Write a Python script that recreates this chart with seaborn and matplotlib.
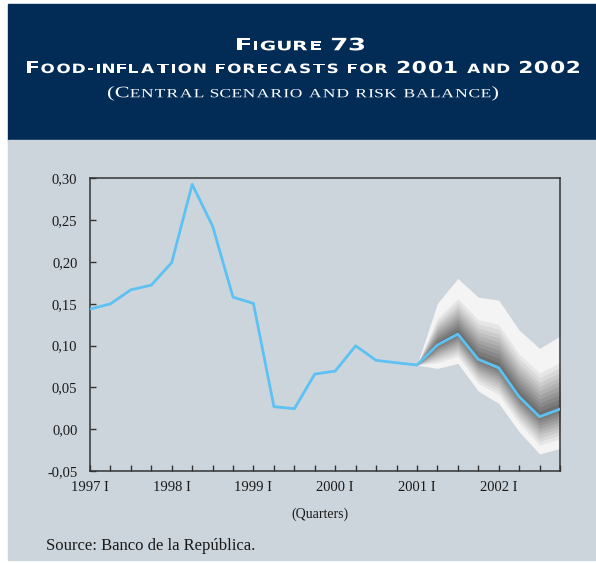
import numpy as np
import pandas as pd
import seaborn as sns
import matplotlib
matplotlib.use("Agg")
import matplotlib.pyplot as plt
from matplotlib.patches import Rectangle, PathPatch
from matplotlib.textpath import TextPath
from matplotlib.font_manager import FontProperties
from matplotlib.transforms import Affine2D

# datos
quarters = list(range(24))
central = [0.1437, 0.150, 0.1668, 0.1724, 0.1995, 0.293, 0.243, 0.158,
           0.1505, 0.027, 0.0245, 0.066, 0.0696, 0.0998, 0.0824, 0.0795,
           0.0768, 0.1007, 0.1138, 0.0836, 0.0735, 0.0389, 0.0149, 0.0241]

# fan (2001 I en adelante)
fan_quarters = [16, 17, 18, 19, 20, 21, 22, 23]
upper_outer = [0.0768, 0.1505, 0.1804, 0.158, 0.1545, 0.1186, 0.0967, 0.1114]
lower_outer = [0.0768, 0.0727, 0.0788, 0.0457, 0.031, -0.003, -0.0297, -0.023]
band_upper = [1.00, 0.64, 0.57, 0.50, 0.44, 0.38, 0.32, 0.26, 0.20, 0.14, 0.08]
band_lower = [1.00, 0.76, 0.66, 0.57, 0.48, 0.40, 0.32, 0.24, 0.16, 0.08, 0.02]

tick_pos = [0, 4, 8, 12, 16, 20]
tick_labels = ["1997 I", "1998 I", "1999 I", "2000 I", "2001 I", "2002 I"]
y_ticks = [-0.05, 0.0, 0.05, 0.10, 0.15, 0.20, 0.25, 0.30]

NAVY = "#022c56"
BG = "#cdd5dc"
LINE = "#5dc2f1"

sns.set_style("ticks")
plt.rcParams["font.family"] = ["Liberation Serif", "DejaVu Serif"]

W, H = 596, 563
fig = plt.figure(figsize=(W / 100, H / 100), dpi=100)
fig.patch.set_facecolor("white")

# paneles de fondo
fig.patches.append(Rectangle((8 / W, (H - 140) / H), 588 / W, 136 / H,
                             transform=fig.transFigure, color=NAVY, zorder=-2))
fig.patches.append(Rectangle((8 / W, 3 / H), 588 / W, (H - 140 - 3) / H,
                             transform=fig.transFigure, color=BG, zorder=-2))

ax = fig.add_axes([90 / W, (H - 471) / H, 470 / W, 292.5 / H])
ax.set_facecolor(BG)

# bandas del fan chart
c = np.array(central[16:])
up = np.array(upper_outer)
lo = np.array(lower_outer)
greys = np.linspace(0.955, 0.43, len(band_upper))
for fu, fl, g in zip(band_upper, band_lower, greys):
    ax.fill_between(fan_quarters, c - fl * (c - lo), c + fu * (up - c),
                    color=str(g), lw=0, zorder=1)

df = pd.DataFrame({"q": quarters, "v": central})
sns.lineplot(data=df, x="q", y="v", ax=ax, color=LINE, lw=2.0, zorder=3)

ax.set_xlim(0, 23)
ax.set_ylim(-0.05, 0.30)
ax.set_xticks(quarters)
ax.set_xticklabels([tick_labels[tick_pos.index(q)] if q in tick_pos else "" for q in quarters])
ax.set_yticks(y_ticks)
ax.set_yticklabels([f"{v:.2f}".replace(".", ",") for v in y_ticks])
ax.tick_params(direction="in", length=4, width=1, color="#333333",
               labelsize=10.5, labelcolor="#1a1a1a")
ax.tick_params(axis="y", pad=9)
ax.tick_params(axis="x", pad=7)
ax.set_xlabel("")
ax.set_ylabel("")
for s in ax.spines.values():
    s.set_color("#333333")
    s.set_linewidth(1.1)

fig.text(320 / W, 1 - 514 / H, "(Quarters)", ha="center", va="center",
         fontsize=10, color="#1a1a1a")
fig.text(46 / W, 1 - 546 / H, "Source: Banco de la República.", ha="left",
         va="center", fontsize=12, color="#1a1a1a")


# titulo en versalitas (letras dibujadas como trazos, estiradas a lo ancho)
def small_caps(s, x0, x1, yc, big, small, family, cap_px, weight="normal",
               gap_f=0.2, sp_f=0.45):
    prop = FontProperties(family=family, weight=weight)
    items = []
    n_sp = 0
    pending = False
    for ch in s:
        if ch == " ":
            pending = True
            continue
        size = small if ch.islower() or ch == "-" else big
        path = TextPath((0, 0), ch.upper(), size=size, prop=prop)
        ext = path.get_extents()
        items.append((path, ext.x0, ext.width, pending))
        n_sp += pending
        pending = False
    gap = gap_f * big
    sp = sp_f * big
    sx = ((x1 - x0) - (len(items) - 1) * gap - n_sp * sp) / sum(i[2] for i in items)
    x = x0
    base = H - (yc + cap_px / 2)
    for path, xmin, w, space in items:
        if space:
            x += sp
        tr = Affine2D().translate(-xmin, 0).scale(sx, 1).translate(x, base)
        fig.add_artist(PathPatch(path, transform=tr, facecolor="white",
                                 edgecolor="none"))
        x += w * sx + gap


small_caps("Figure 73", 237, 364, 44, 17, 13, "DejaVu Sans", 12.5, "bold")
small_caps("Food-inflation forecasts for 2001 and 2002", 27, 579, 67, 16.5, 12.8,
           "DejaVu Sans", 12, "bold")
small_caps("(Central scenario and risk balance)", 108, 498, 92, 16, 12.5,
           "Liberation Serif", 10.5, gap_f=0.12, sp_f=0.35)

fig.savefig("out.png", dpi=100, facecolor="white")
